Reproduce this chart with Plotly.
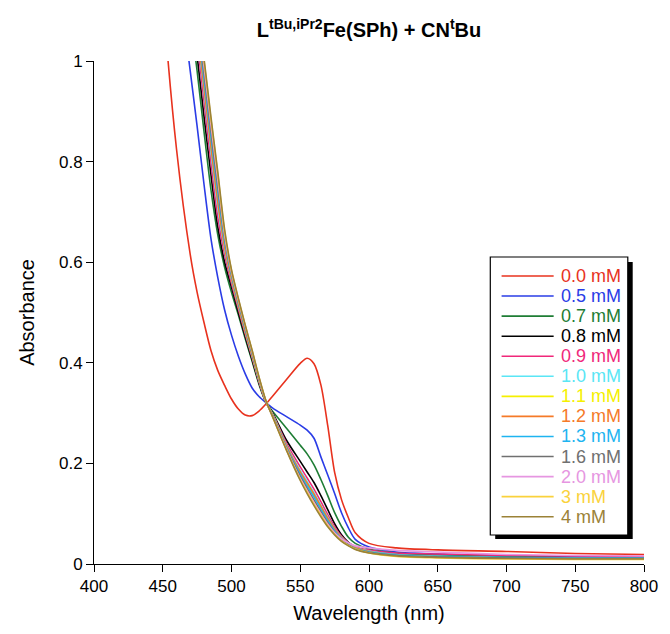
import plotly.graph_objects as go

wavelength = [440, 450, 460, 470, 475, 480, 485, 490, 495, 500, 505, 510, 515, 520, 525, 530,
              540, 550, 555, 560, 565, 570, 575, 580, 585, 590, 600, 620, 650, 700, 750, 800]

labels = ["0.0 mM", "0.5 mM", "0.7 mM", "0.8 mM", "0.9 mM", "1.0 mM", "1.1 mM",
          "1.2 mM", "1.3 mM", "1.6 mM", "2.0 mM", "3 mM", "4 mM"]

colors = ["#e8321e", "#2a3ce6", "#1e7d34", "#000000", "#f0287a", "#5ae6f5", "#f5f000",
          "#f57a28", "#1eb4f0", "#707070", "#e696e1", "#fad23c", "#9b8237"]

a_00 = [1.55, 1.13, 0.825, 0.615, 0.54, 0.48, 0.425, 0.385, 0.355, 0.328, 0.308, 0.296, 0.295, 0.304, 0.318, 0.334,
        0.367, 0.399, 0.409, 0.398, 0.356, 0.275, 0.182, 0.128, 0.092, 0.062, 0.041, 0.032, 0.028, 0.025, 0.021, 0.019]
a_05 = [1.9, 1.5, 1.2, 0.98, 0.87, 0.755, 0.648, 0.57, 0.505, 0.455, 0.413, 0.378, 0.35, 0.333, 0.321, 0.31,
        0.293, 0.276, 0.266, 0.25, 0.213, 0.177, 0.14, 0.102, 0.072, 0.049, 0.034, 0.024, 0.02, 0.017, 0.015, 0.014]
a_07 = [2.1, 1.65, 1.32, 1.09, 0.98, 0.86, 0.745, 0.655, 0.59, 0.54, 0.495, 0.448, 0.403, 0.357, 0.322, 0.303,
        0.27, 0.236, 0.219, 0.197, 0.168, 0.136, 0.102, 0.075, 0.053, 0.041, 0.03, 0.022, 0.018, 0.015, 0.013, 0.012]
a_08 = [2.15, 1.7, 1.36, 1.12, 1.01, 0.89, 0.775, 0.67, 0.6, 0.55, 0.5, 0.452, 0.406, 0.36, 0.322, 0.3,
        0.246, 0.204, 0.183, 0.162, 0.136, 0.108, 0.08, 0.058, 0.043, 0.034, 0.026, 0.019, 0.016, 0.013, 0.012, 0.011]
a_09 = [2.18, 1.74, 1.39, 1.15, 1.04, 0.92, 0.8, 0.69, 0.615, 0.558, 0.507, 0.457, 0.41, 0.362, 0.322, 0.298,
        0.24, 0.193, 0.171, 0.149, 0.124, 0.098, 0.074, 0.055, 0.042, 0.034, 0.028, 0.022, 0.02, 0.017, 0.016, 0.015]
a_10 = [2.2, 1.76, 1.41, 1.165, 1.055, 0.94, 0.82, 0.71, 0.625, 0.565, 0.512, 0.461, 0.413, 0.365, 0.323, 0.297,
        0.236, 0.186, 0.164, 0.142, 0.117, 0.093, 0.07, 0.053, 0.041, 0.033, 0.026, 0.019, 0.016, 0.013, 0.012, 0.011]
a_11 = [2.22, 1.78, 1.43, 1.18, 1.07, 0.955, 0.84, 0.73, 0.635, 0.57, 0.516, 0.464, 0.416, 0.366, 0.323, 0.296,
        0.233, 0.181, 0.159, 0.137, 0.113, 0.089, 0.068, 0.051, 0.04, 0.032, 0.024, 0.017, 0.014, 0.012, 0.011, 0.01]
a_12 = [2.21, 1.77, 1.42, 1.17, 1.06, 0.948, 0.83, 0.72, 0.63, 0.568, 0.514, 0.462, 0.414, 0.365, 0.322, 0.296,
        0.234, 0.183, 0.161, 0.139, 0.115, 0.091, 0.069, 0.052, 0.041, 0.033, 0.025, 0.018, 0.015, 0.012, 0.011, 0.011]
a_13 = [2.24, 1.8, 1.44, 1.19, 1.08, 0.965, 0.85, 0.74, 0.642, 0.574, 0.519, 0.467, 0.418, 0.367, 0.323, 0.295,
        0.231, 0.178, 0.155, 0.133, 0.109, 0.086, 0.066, 0.05, 0.039, 0.031, 0.024, 0.018, 0.015, 0.013, 0.012, 0.012]
a_16 = [2.26, 1.82, 1.455, 1.2, 1.09, 0.978, 0.862, 0.752, 0.65, 0.578, 0.522, 0.47, 0.42, 0.368, 0.324, 0.294,
        0.229, 0.174, 0.15, 0.127, 0.104, 0.082, 0.063, 0.048, 0.038, 0.03, 0.023, 0.017, 0.014, 0.012, 0.011, 0.011]
a_20 = [2.27, 1.83, 1.465, 1.21, 1.1, 0.99, 0.875, 0.765, 0.655, 0.58, 0.524, 0.472, 0.422, 0.37, 0.324, 0.293,
        0.228, 0.17, 0.146, 0.122, 0.1, 0.079, 0.062, 0.05, 0.042, 0.036, 0.032, 0.027, 0.024, 0.019, 0.017, 0.016]
a_30 = [2.29, 1.84, 1.475, 1.215, 1.105, 1.0, 0.885, 0.775, 0.66, 0.583, 0.526, 0.474, 0.424, 0.371, 0.325, 0.292,
        0.227, 0.168, 0.143, 0.119, 0.097, 0.076, 0.059, 0.046, 0.037, 0.03, 0.022, 0.015, 0.012, 0.01, 0.009, 0.009]
a_40 = [2.3, 1.85, 1.48, 1.22, 1.11, 1.005, 0.89, 0.78, 0.665, 0.585, 0.528, 0.475, 0.425, 0.372, 0.325, 0.292,
        0.226, 0.166, 0.14, 0.116, 0.094, 0.074, 0.058, 0.045, 0.036, 0.029, 0.022, 0.016, 0.013, 0.011, 0.01, 0.01]

series = [a_00, a_05, a_07, a_08, a_09, a_10, a_11, a_12, a_13, a_16, a_20, a_30, a_40]

x_ticks = [400, 450, 500, 550, 600, 650, 700, 750, 800]
y_ticks = [0, 0.2, 0.4, 0.6, 0.8, 1]
y_ticklabels = ["0", "0.2", "0.4", "0.6", "0.8", "1"]

FONT = "Liberation Sans, Arial, sans-serif"
W, H = 670, 634
ML, MR, MT, MB = 94, 16, 61, 70
PW, PH = W - ML - MR, H - MT - MB


def px(x):
    return (x - ML) / PW


def py(y):
    return (H - MB - y) / PH


fig = go.Figure()
for lab, col, vals in zip(labels, colors, series):
    fig.add_trace(go.Scatter(
        x=wavelength, y=vals, mode="lines",
        line=dict(color=col, width=1.6, shape="spline", smoothing=0.8),
        name=lab, showlegend=False,
    ))

# hand-drawn legend box (with drop shadow) in the style of the original
box_l, box_r, box_t, box_b = 497.5, 637.5, 257, 535
shadow = 5
fig.add_shape(type="rect", xref="paper", yref="paper", layer="above",
              x0=px(box_l + shadow), x1=px(box_r + shadow),
              y0=py(box_b + shadow - 1), y1=py(box_t + shadow),
              fillcolor="black", line=dict(width=0))
fig.add_shape(type="rect", xref="paper", yref="paper", layer="above",
              x0=px(box_l), x1=px(box_r), y0=py(box_b), y1=py(box_t),
              fillcolor="white", line=dict(color="black", width=1.2))
row0, row_step = 276, 20.06
for i, (lab, col) in enumerate(zip(labels, colors)):
    yy = py(row0 + i * row_step)
    fig.add_shape(type="line", xref="paper", yref="paper", layer="above",
                  x0=px(509), x1=px(562), y0=yy, y1=yy,
                  line=dict(color=col, width=1.6))
    fig.add_annotation(xref="paper", yref="paper", x=px(567), y=yy,
                       xanchor="left", yanchor="middle", showarrow=False,
                       text=lab, font=dict(family=FONT, size=18, color=col))

fig.update_layout(
    width=W, height=H,
    margin=dict(l=ML, r=MR, t=MT, b=MB),
    paper_bgcolor="white", plot_bgcolor="white",
    font=dict(family=FONT, size=17, color="black"),
    title=dict(text="L<sup>tBu,iPr2</sup>Fe(SPh) + CN<sup>t</sup>Bu",
               x=0.5, xref="paper", y=1 - 30 / H, yanchor="middle",
               font=dict(family=FONT, size=20, color="black", weight="bold")),
    showlegend=False,
)
fig.update_xaxes(range=[400, 800], tickvals=x_ticks, ticks="outside", ticklen=7,
                 tickcolor="black", showline=True, linecolor="black", linewidth=1,
                 showgrid=False, zeroline=False,
                 title=dict(text="Wavelength (nm)", standoff=10))
fig.update_yaxes(range=[0, 1], tickvals=y_ticks, ticktext=y_ticklabels, ticks="outside",
                 ticklen=7, tickcolor="black", showline=True, linecolor="black", linewidth=1,
                 showgrid=False, zeroline=False,
                 title=dict(text="Absorbance", standoff=18))

fig.write_html("out.html")
